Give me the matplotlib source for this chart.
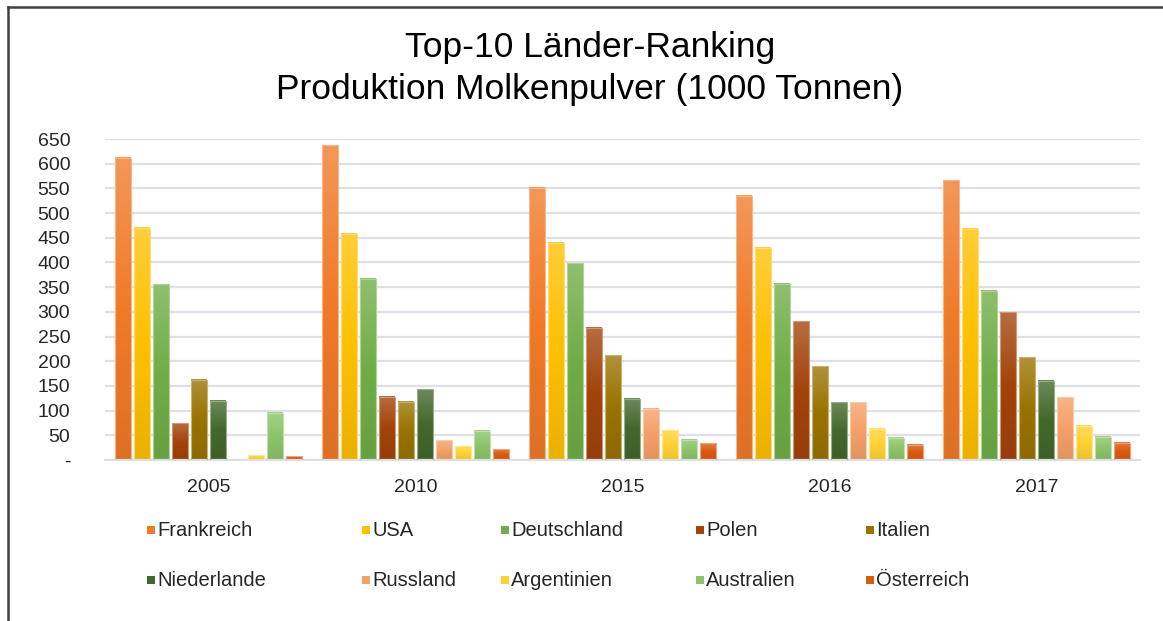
import numpy as np
import matplotlib
matplotlib.use("Agg")
import matplotlib.pyplot as plt
from matplotlib.colors import LinearSegmentedColormap, to_rgb
from matplotlib.lines import Line2D
from matplotlib.patches import Rectangle

# ---------------- data ----------------
years = ["2005", "2010", "2015", "2016", "2017"]
countries = ["Frankreich", "USA", "Deutschland", "Polen", "Italien",
             "Niederlande", "Russland", "Argentinien", "Australien", "Österreich"]
frankreich = [612, 637, 551, 535, 566]
usa = [470, 458, 440, 430, 468]
deutschland = [356, 367, 398, 357, 343]
polen = [74, 128, 268, 281, 299]
italien = [162, 118, 212, 190, 208]
niederlande = [120, 143, 124, 117, 160]
russland = [0, 40, 104, 117, 127]
argentinien = [10, 28, 60, 63, 69]
australien = [96, 59, 41, 45, 47]
oesterreich = [8, 22, 34, 31, 35]
series = [frankreich, usa, deutschland, polen, italien,
          niederlande, russland, argentinien, australien, oesterreich]
colors = ["#F07A28", "#FFC000", "#70AD47", "#A3430A", "#997300",
          "#43682B", "#F4A068", "#FFD233", "#8CC46A", "#DA5A10"]
ytick_vals = list(range(0, 651, 50))
ytick_labels = ["-"] + [str(v) for v in ytick_vals[1:]]
title = "Top-10 Länder-Ranking\nProduktion Molkenpulver (1000 Tonnen)"

# ---------------- helpers ----------------
def mix(c, other, f):
    c = np.array(to_rgb(c)); o = np.array(to_rgb(other))
    return tuple(c * (1 - f) + o * f)

W, H = 1163, 621
fig = plt.figure(figsize=(W / 100, H / 100), dpi=100)
fig.patch.set_facecolor("white")
font = "Liberation Sans"

def fx(px): return px / W
def fy(py): return 1 - py / H

ax = fig.add_axes([fx(105), fy(460), fx(1140) - fx(105), fy(139) - fy(460)])

n = len(series)
slot = 0.092
bw = 0.075
x = np.arange(len(years))
for i, (vals, col) in enumerate(zip(series, colors)):
    offs = (i - (n - 1) / 2) * slot
    bars = ax.bar(x + offs, vals, width=bw, facecolor="none",
                  edgecolor=mix(col, "white", 0.45), linewidth=0.8, zorder=3)
    cmap = LinearSegmentedColormap.from_list(
        "g%d" % i, [mix(col, "black", 0.08), col, mix(col, "white", 0.22)])
    grad = np.linspace(0, 1, 256).reshape(-1, 1)
    for r in bars:
        h = r.get_height()
        if h <= 0:
            continue
        x0 = r.get_x()
        ax.imshow(grad, extent=[x0, x0 + r.get_width(), 0, h], origin="lower",
                  cmap=cmap, aspect="auto", zorder=2, interpolation="bilinear")

ax.set_xlim(-0.5, len(years) - 0.5)
ax.set_ylim(0, 650)
ax.set_yticks(ytick_vals)
ax.set_yticklabels(ytick_labels, fontfamily=font, fontsize=14, color="#262626")
ax.set_xticks(x)
ax.set_xticklabels(years, fontfamily=font, fontsize=14, color="#262626")
ax.tick_params(axis="y", length=0, pad=25)
ax.tick_params(axis="x", length=0, pad=14)
ax.grid(axis="y", color="#DDE0E6", linewidth=1.6, zorder=0)
ax.set_axisbelow(True)
for s in ["top", "right", "left"]:
    ax.spines[s].set_visible(False)
ax.spines["bottom"].set_color("#DDE0E6")
ax.spines["bottom"].set_linewidth(1.6)

# title
fig.text(fx(590), fy(48), title.split("\n")[0], ha="center", va="center",
         fontfamily=font, fontsize=25.5, color="#000000")
fig.text(fx(590), fy(90), title.split("\n")[1], ha="center", va="center",
         fontfamily=font, fontsize=25.5, color="#000000")

# legend (manual layout matching reference)
col_x = [147, 362, 501, 696, 866]
row_y = [530, 580]
for k, (name, col) in enumerate(zip(countries, colors)):
    r, c = divmod(k, 5)
    px, py = col_x[c], row_y[r]
    fig.add_artist(Rectangle((fx(px), fy(py + 4)), fx(8), 8 / H,
                             transform=fig.transFigure, facecolor=col,
                             edgecolor="none"))
    fig.text(fx(px + 10), fy(py), name, ha="left", va="center",
             fontfamily=font, fontsize=14.5, color="#262626")

# frame lines (top and left)
fig.add_artist(Line2D([fx(8), 1.0], [fy(7), fy(7)], transform=fig.transFigure,
                      color="#404040", linewidth=1.8))
fig.add_artist(Line2D([fx(8), fx(8)], [fy(7), 0.0], transform=fig.transFigure,
                      color="#404040", linewidth=1.8))

fig.savefig("out.png", dpi=100)
